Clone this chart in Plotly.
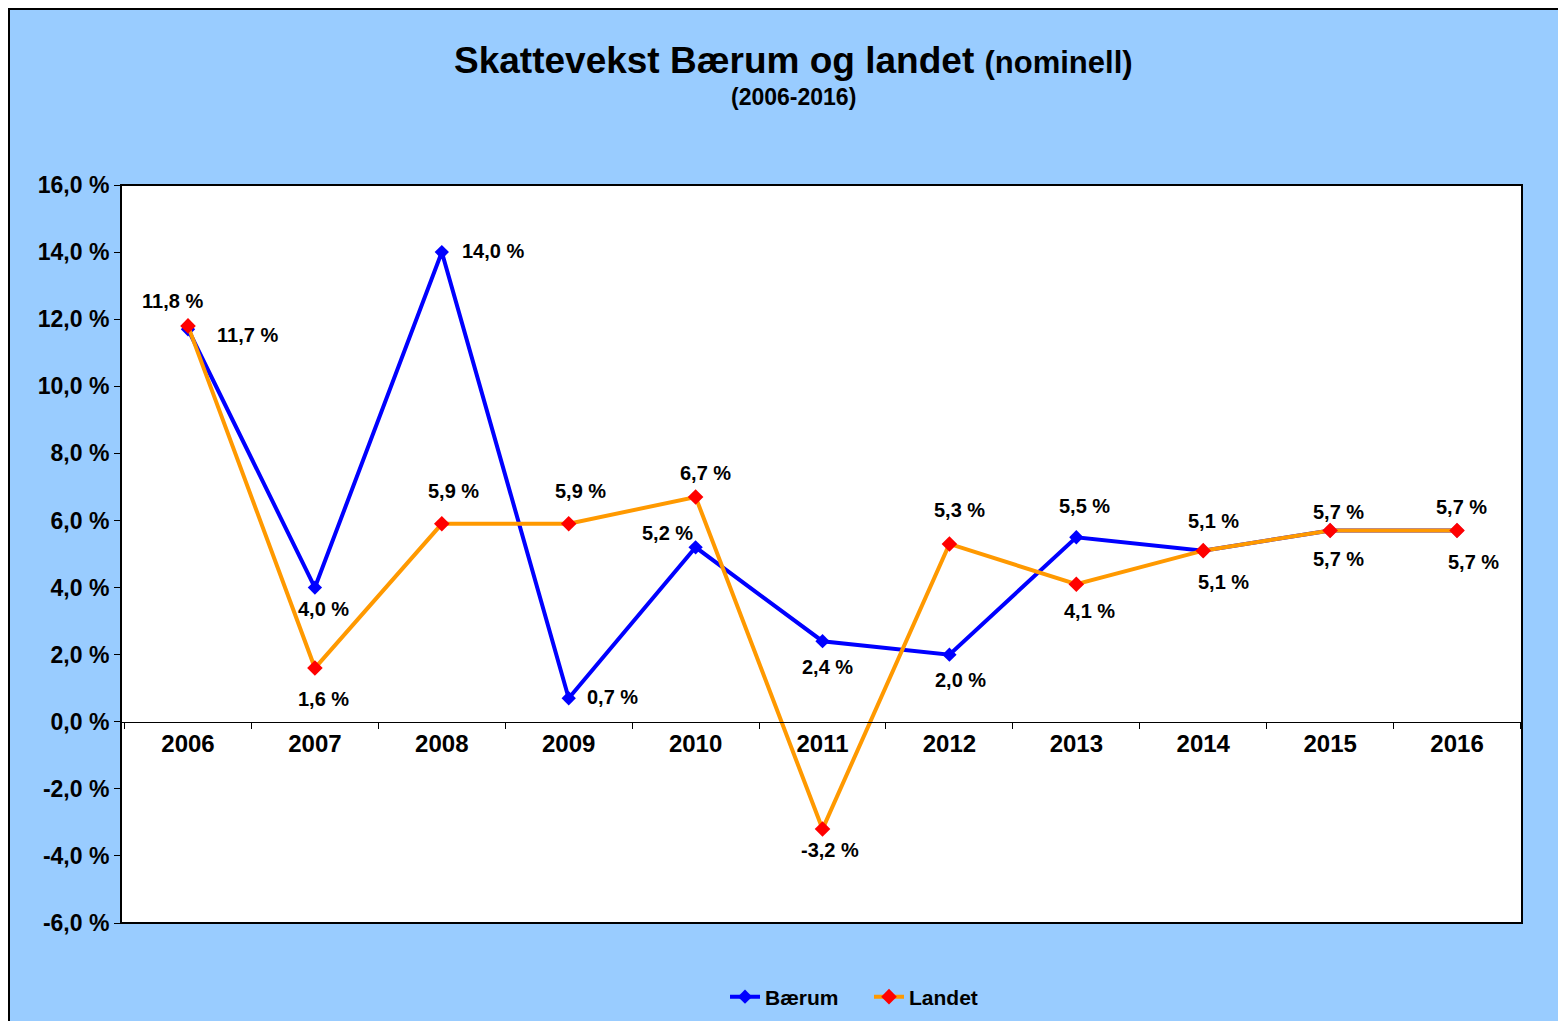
import plotly.graph_objects as go

YEARS = ['2006', '2007', '2008', '2009', '2010', '2011', '2012', '2013', '2014', '2015', '2016']
BAERUM = [11.7, 4.0, 14.0, 0.7, 5.2, 2.4, 2.0, 5.5, 5.1, 5.7, 5.7]
LANDET = [11.8, 1.6, 5.9, 5.9, 6.7, -3.2, 5.3, 4.1, 5.1, 5.7, 5.7]
Y_TICKS = [-6, -4, -2, 0, 2, 4, 6, 8, 10, 12, 14, 16]
Y_TICK_LABELS = ['-6,0 %', '-4,0 %', '-2,0 %', '0,0 %', '2,0 %', '4,0 %', '6,0 %',
                 '8,0 %', '10,0 %', '12,0 %', '14,0 %', '16,0 %']

# label offsets in pixels (dx, dy) so the value labels sit where the original had them
B_OFFS = [(59, -6), (9, -21), (51, 1), (44, 1), (-28, 14), (5, -26),
          (11, -25), (8, 31), (10, 30), (8, -28), (16, -31)]
L_OFFS = [(-16, 25), (9, -31), (12, 33), (12, 33), (10, 24), (7, -21),
          (10, 34), (13, -27), (20, -31), (8, 19), (4, 24)]

FONT = 'Liberation Sans, Arial, sans-serif'
BG = '#99CCFF'

# plot area in figure pixels (page has an 8px body margin)
L, T, W, H = 113, 177, 1401, 738

def lab(v):
  return f'{v:.1f} %'.replace('.', ',')

def px_x(p):
  return (p - L) / W

def px_y(p):
  return (T + H - p) / H

fig = go.Figure()
fig.add_trace(go.Scatter(x=YEARS, y=BAERUM, name='Bærum', mode='lines+markers',
                         line=dict(color='#0000FF', width=4),
                         marker=dict(symbol='diamond', size=11, color='#0000FF')))
fig.add_trace(go.Scatter(x=YEARS, y=LANDET, name='Landet', mode='lines+markers',
                         line=dict(color='#FF9900', width=4),
                         marker=dict(symbol='diamond', size=12, color='#FF0000')))

annos = []
for vals, offs in (BAERUM, B_OFFS), (LANDET, L_OFFS):
  for i, (v, (dx, dy)) in enumerate(zip(vals, offs)):
    annos.append(dict(xref='x', yref='y', x=i, y=v, text='<b>' + lab(v) + '</b>',
                      showarrow=False, xshift=dx, yshift=dy,
                      xanchor='center', yanchor='middle',
                      font=dict(family=FONT, size=20, color='black')))

#Title and subtitle
annos.append(dict(xref='paper', yref='paper', x=px_x(785), y=px_y(52),
                  xanchor='center', yanchor='middle',
                  text='<b>Skattevekst Bærum og landet</b> <b><span style="font-size:31px">(nominell)</span></b>',
                  showarrow=False, font=dict(family=FONT, size=37, color='black')))
annos.append(dict(xref='paper', yref='paper', x=px_x(785), y=px_y(89),
                  xanchor='center', yanchor='middle',
                  text='<b>(2006-2016)</b>', showarrow=False,
                  font=dict(family=FONT, size=23, color='black')))

shapes = [
  #outer frame
  dict(type='rect', xref='paper', yref='paper', layer='below',
       x0=px_x(1), x1=px_x(1700), y0=px_y(1200), y1=px_y(1),
       fillcolor=BG, line=dict(color='black', width=2)),
  #white plot area
  dict(type='rect', xref='paper', yref='paper', layer='below',
       x0=0, x1=1, y0=0, y1=1, fillcolor='white', line=dict(color='black', width=2)),
]

fig.update_layout(
  width=1566, height=1021,
  margin=dict(l=L, r=1566 - L - W, t=T, b=1021 - T - H),
  paper_bgcolor=BG, plot_bgcolor='rgba(0,0,0,0)',
  font=dict(family=FONT, color='black'),
  showlegend=True,
  legend=dict(orientation='h', x=px_x(861), xanchor='center',
              y=px_y(989), yanchor='middle', bgcolor='rgba(0,0,0,0)',
              entrywidth=99, entrywidthmode='pixels',
              font=dict(family=FONT, size=21, color='black', weight='bold')),
  annotations=annos,
  shapes=shapes,
)
fig.update_xaxes(type='category', range=[-0.528, 10.512], anchor='free', position=6 / 22,
                 showline=True, linecolor='black', linewidth=1,
                 ticks='outside', tickson='boundaries', ticklen=6, tickcolor='black',
                 showgrid=False, zeroline=False,
                 tickfont=dict(family=FONT, size=24, color='black', weight='bold'))
fig.update_yaxes(range=[-6, 16], tickvals=Y_TICKS, ticktext=Y_TICK_LABELS,
                 showline=False, ticks='outside', ticklen=6, tickcolor='black',
                 showgrid=False, zeroline=False,
                 tickfont=dict(family=FONT, size=23, color='black', weight='bold'))

fig.write_html('out.html')
